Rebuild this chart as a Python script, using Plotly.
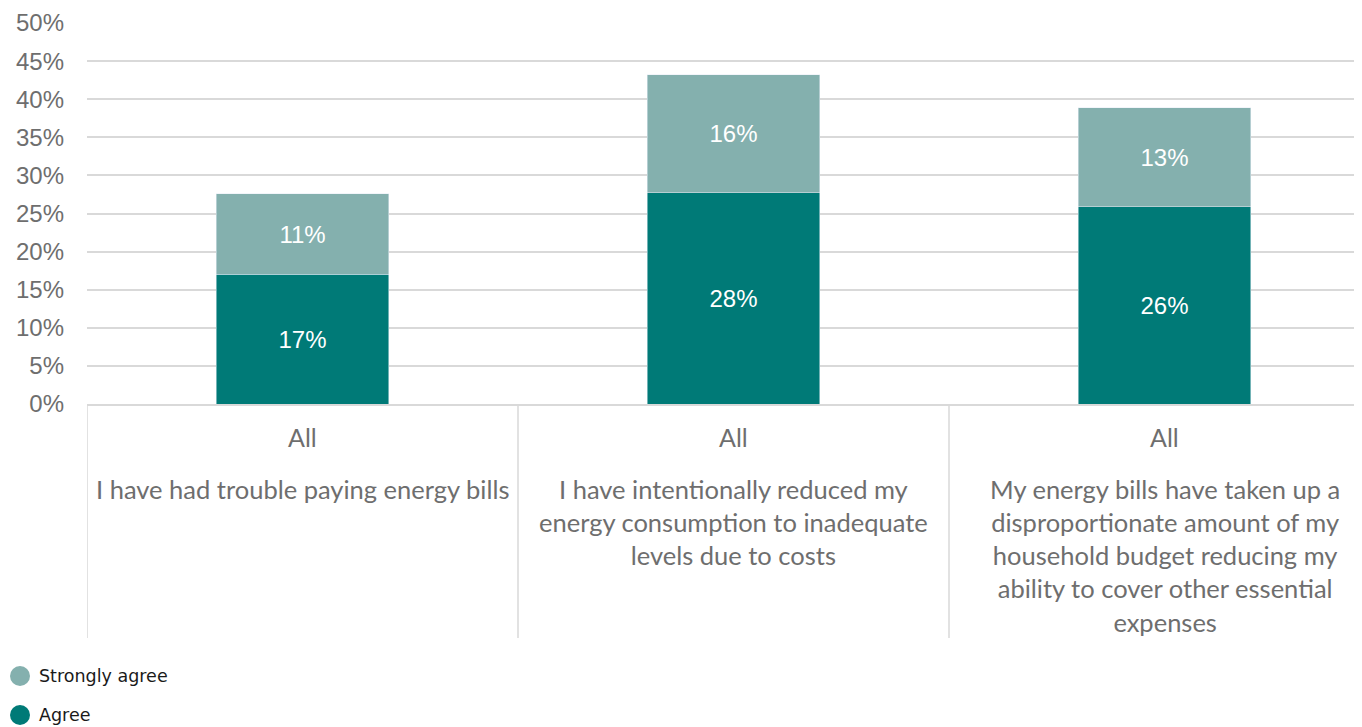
import plotly.graph_objects as go

groups = ["All", "All", "All"]
statements = [
    "I have had trouble paying energy bills",
    "I have intentionally reduced my<br>energy consumption to inadequate<br>levels due to costs",
    "My energy bills have taken up a<br>disproportionate amount of my<br>household budget reducing my<br>ability to cover other essential<br>expenses",
]
agree = [17.0, 27.7, 25.9]
strongly_agree = [10.6, 15.5, 13.0]
y_ticks = [0, 5, 10, 15, 20, 25, 30, 35, 40, 45, 50]
legend_names = ["Strongly agree", "Agree"]

C_AGREE = "#007A77"
C_STRONG = "#84B0AE"
GRID = "#D9D9D9"
TXT = "#6E6E6E"

# figure geometry (page body adds 8px offset)
W, H = 1354, 719
ML, MT, MB = 79, 15, 323
PW = W - ML
PH = H - MT - MB


def py(px_from_plot_bottom):
    return -px_from_plot_bottom / PH


idx = list(range(len(statements)))
fig = go.Figure()
fig.add_trace(go.Bar(x=idx, y=agree, name="Agree", marker_color=C_AGREE, width=0.4,
                     texttemplate="%{y:.0f}%", textposition="inside", insidetextanchor="middle",
                     textfont=dict(color="white", size=24, family="Liberation Sans"),
                     showlegend=False))
fig.add_trace(go.Bar(x=idx, y=strongly_agree, name="Strongly agree", marker_color=C_STRONG, width=0.4,
                     texttemplate="%{y:.0f}%", textposition="inside", insidetextanchor="middle",
                     textfont=dict(color="white", size=24, family="Liberation Sans"),
                     showlegend=False))

n = len(statements)
for i in range(n + 1):
    fig.add_shape(type="line", xref="x", yref="paper", x0=i - 0.5, x1=i - 0.5,
                  y0=0, y1=py(234), line=dict(color=GRID, width=1.5))
for i in idx:
    fig.add_annotation(x=i, y=py(33), xref="x", yref="paper", text=groups[i],
                       showarrow=False, yanchor="middle", font=dict(size=25, color=TXT, family="Lato"))
    fig.add_annotation(x=i, y=py(68), xref="x", yref="paper", text=statements[i],
                       showarrow=False, yanchor="top", align="center",
                       font=dict(size=25.5, color=TXT, family="Lato"))

# legend (circle markers)
leg_colors = [C_STRONG, C_AGREE]
leg_y = [272, 311]  # px below plot bottom
r = 10
for name, col, dy in zip(legend_names, leg_colors, leg_y):
    cx = (12 - ML) / PW
    fig.add_shape(type="circle", xref="paper", yref="paper",
                  x0=cx - r / PW, x1=cx + r / PW, y0=py(dy) - r / PH, y1=py(dy) + r / PH,
                  fillcolor=col, line=dict(width=0))
    fig.add_annotation(x=(29 - ML) / PW, y=py(dy), xref="paper", yref="paper", text=name,
                       showarrow=False, xanchor="left", yanchor="middle",
                       font=dict(size=17.5, color="#1A1A1A", family="DejaVu Sans"))

fig.update_layout(
    width=W, height=H,
    margin=dict(l=ML, r=0, t=MT, b=MB, autoexpand=False),
    barmode="stack",
    showlegend=False,
    plot_bgcolor="white", paper_bgcolor="white",
    xaxis=dict(range=[-0.5, -0.5 + PW / 431], showticklabels=False, showgrid=False,
               zeroline=False, showline=True, linecolor=GRID, linewidth=1.5, fixedrange=True),
    yaxis=dict(range=[0, 50], tickvals=y_ticks, ticktext=[f"{v}%" for v in y_ticks],
               showgrid=True, gridcolor=GRID, gridwidth=1.5, zeroline=False, showline=False,
               tickfont=dict(size=24, color=TXT, family="Liberation Sans"), ticklabelstandoff=22),
    bargap=0.6,
)
fig.write_html("out.html")
